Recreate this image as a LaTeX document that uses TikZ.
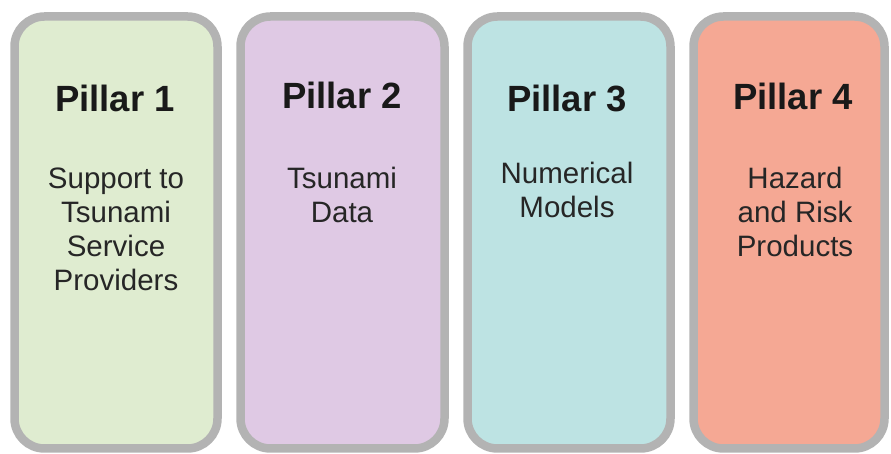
\documentclass[tikz,border=0pt]{standalone}
\usepackage{fontspec}
\setmainfont{Liberation Sans}
\definecolor{pgray}{HTML}{B3B3B3}
\definecolor{pone}{HTML}{DFECD0}
\definecolor{ptwo}{HTML}{DFC9E4}
\definecolor{pthree}{HTML}{BDE3E3}
\definecolor{pfour}{HTML}{F5A894}
\begin{document}
\begin{tikzpicture}[x=1pt,y=1pt,
  pillarbox/.style={draw=pgray,line width=8.5pt,rounded corners=30pt,inner sep=0pt},
  titletext/.style={font=\fontsize{36.5}{40}\selectfont\bfseries,anchor=base,inner sep=0pt,text=black!90},
  bodytext/.style={font=\fontsize{29.5}{34}\selectfont,align=center,inner sep=0pt,text=black!85}]
\useasboundingbox (0,0) rectangle (891,454);
\node[pillarbox,fill=pone,minimum width=203pt,minimum height=432pt] (b1) at (116,221.5) {};
\node[pillarbox,fill=ptwo,minimum width=204pt,minimum height=432pt] (b2) at (342.5,221.5) {};
\node[pillarbox,fill=pthree,minimum width=203pt,minimum height=432pt] (b3) at (569,221.5) {};
\node[pillarbox,fill=pfour,minimum width=191pt,minimum height=432pt] (b4) at (789,221.5) {};
\node[titletext] (t1) at (115,454-112) {Pillar 1};
\node[titletext] (t2) at (342,454-109) {Pillar 2};
\node[titletext] (t3) at (567,454-112) {Pillar 3};
\node[titletext] (t4) at (793,454-110) {Pillar 4};
\node[bodytext] (d1) at (116,454-229) {Support to\\Tsunami\\Service\\Providers};
\node[bodytext] (d2) at (342,454-195) {Tsunami\\Data};
\node[bodytext] (d3) at (567,454-189.5) {Numerical\\Models};
\node[bodytext] (d4) at (795,454-212) {Hazard\\and Risk\\Products};
\end{tikzpicture}
\end{document}
